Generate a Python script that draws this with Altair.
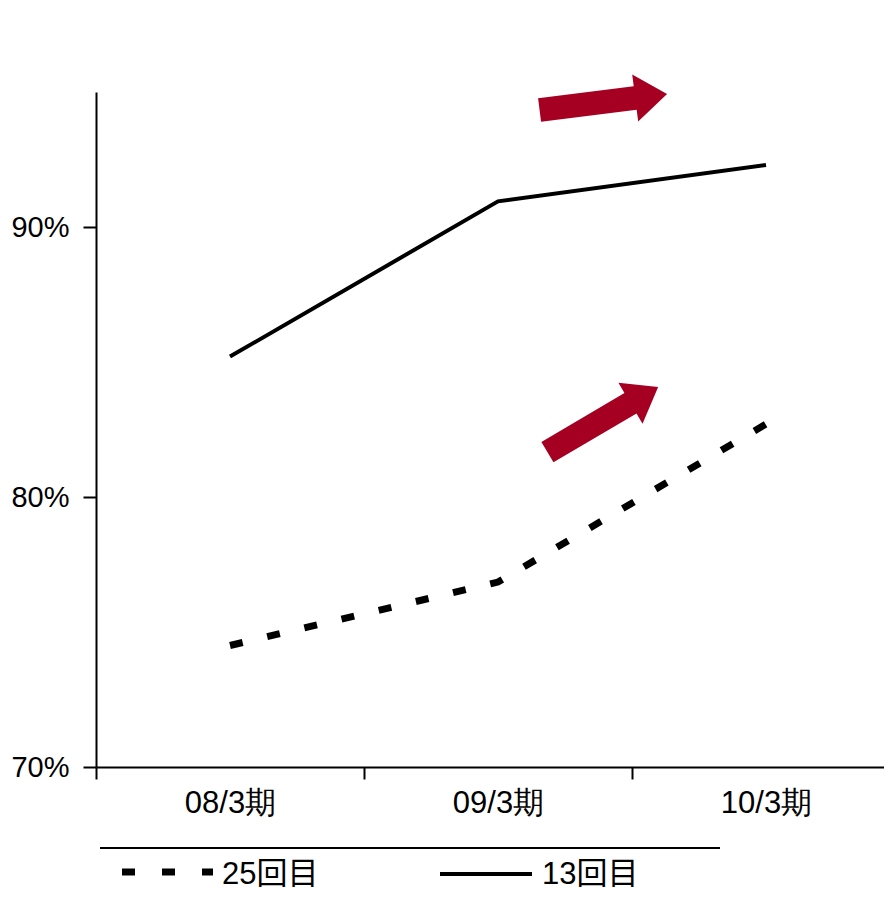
import altair as alt
import pandas as pd

# ---- data ----
periods = ["08/3期", "09/3期", "10/3期"]
series_names = ["25回目", "13回目"]
values_25 = [74.5, 76.85, 82.7]
values_13 = [85.2, 90.95, 92.3]

# annotation arrows (position in data units, rotation in degrees)
arrow_x = [1.393, 1.391]
arrow_y = [94.63, 82.87]
arrow_angle = [352.8, 329.5]

idx = list(range(len(periods)))
df25 = pd.DataFrame({"i": idx, "v": values_25, "series": series_names[0]})
df13 = pd.DataFrame({"i": idx, "v": values_13, "series": series_names[1]})
df_arrow = pd.DataFrame({"x": arrow_x, "y": arrow_y, "a": arrow_angle})

W, H = 788, 675
STEP = 268.0
x_dom = [-0.5, -0.5 + W / STEP]

label_expr = " : ".join(
    [f"datum.value == {i} ? '{p}'" for i, p in enumerate(periods)]
) + " : ''"

x_scale = alt.Scale(domain=x_dom, nice=False, zero=False)
y_scale = alt.Scale(domain=[70, 95], nice=False, zero=False)

x_axis = alt.Axis(
    values=[-0.5, 0, 0.5, 1, 1.5, 2],
    labelExpr=label_expr,
    title=None,
    grid=False,
    tickSize=12,
    tickWidth=2,
    tickOpacity={"condition": {"test": "datum.value % 1 != 0", "value": 1}, "value": 0},
    labelPadding=9,
    labelFont="Liberation Sans",
    labelFontSize=31,
    labelColor="black",
    labelBaseline="top",
    domainColor="black",
    domainWidth=2,
    tickColor="black",
)
y_axis = alt.Axis(
    values=[70, 80, 90],
    labelExpr="datum.value + '%'",
    title=None,
    grid=False,
    tickSize=13,
    tickWidth=2,
    labelPadding=14,
    labelFont="Liberation Sans",
    labelFontSize=29,
    labelColor="black",
    domainColor="black",
    domainWidth=2,
    tickColor="black",
)

line13 = alt.Chart(df13).mark_line(color="black", strokeWidth=4).encode(
    x=alt.X("i:Q", scale=x_scale, axis=x_axis),
    y=alt.Y("v:Q", scale=y_scale, axis=y_axis),
)
line25 = alt.Chart(df25).mark_line(
    color="black", strokeWidth=7, strokeDash=[13, 25.2], strokeCap="butt"
).encode(
    x=alt.X("i:Q", scale=x_scale),
    y=alt.Y("v:Q", scale=y_scale),
)

arrow_path = "M -1 -0.185 L 0.5 -0.185 L 0.5 -0.37 L 1 0 L 0.5 0.37 L 0.5 0.185 L -1 0.185 Z"
arrows = alt.Chart(df_arrow).mark_point(
    shape=arrow_path, filled=True, color="#A50021", opacity=1, size=16512, strokeWidth=0
).encode(
    x=alt.X("x:Q", scale=x_scale),
    y=alt.Y("y:Q", scale=y_scale),
    angle=alt.Angle("a:Q", scale=None),
)

# legend (separator line, symbols and labels)
one = pd.DataFrame({"k": [0]})
sep = alt.Chart(one).mark_rule(color="black", strokeWidth=2).encode(
    x=alt.value(4), x2=alt.value(624), y=alt.value(756)
)
leg_dash = alt.Chart(one).mark_rule(
    color="black", strokeWidth=7, strokeDash=[13, 27], strokeCap="butt"
).encode(x=alt.value(26), x2=alt.value(117), y=alt.value(780))
leg_solid = alt.Chart(one).mark_rule(color="black", strokeWidth=4).encode(
    x=alt.value(344), x2=alt.value(436), y=alt.value(782)
)
leg_font = "Liberation Sans, Noto Sans CJK JP"
leg_t1 = alt.Chart(pd.DataFrame({"t": [series_names[0]]})).mark_text(
    align="left", baseline="alphabetic", font=leg_font, fontSize=31, color="black"
).encode(x=alt.value(126), y=alt.value(792), text="t:N")
leg_t2 = alt.Chart(pd.DataFrame({"t": [series_names[1]]})).mark_text(
    align="left", baseline="alphabetic", font=leg_font, fontSize=31, color="black"
).encode(x=alt.value(446), y=alt.value(792), text="t:N")

chart = alt.layer(
    line13, line25, arrows, sep, leg_dash, leg_solid, leg_t1, leg_t2
).properties(
    width=W,
    height=H,
    autosize=alt.AutoSizeParams(type="none"),
    padding={"left": 88, "top": 84, "right": 0, "bottom": 125},
    background="white",
).configure_view(stroke=None)

chart.save("out.html", embed_options={"renderer": "svg", "actions": False})
